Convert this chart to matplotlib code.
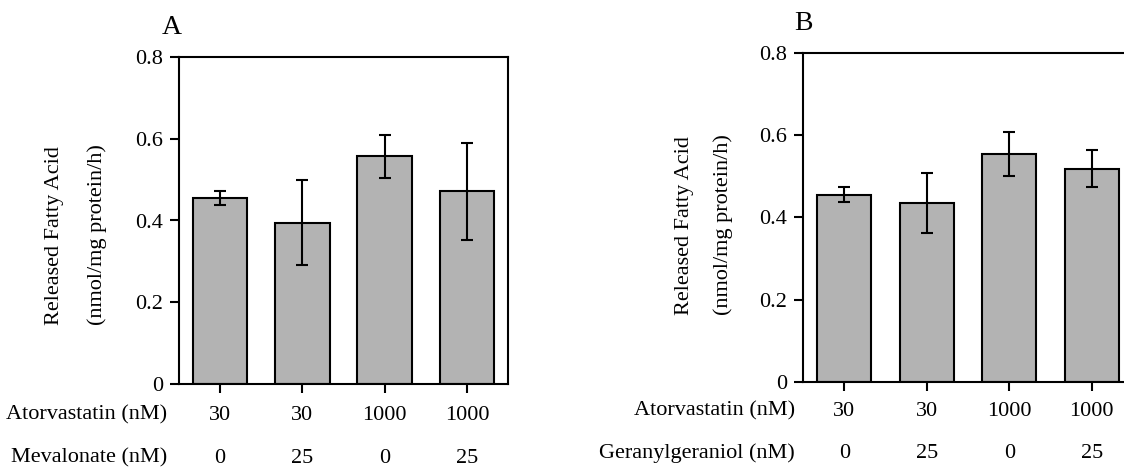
import matplotlib
matplotlib.use('Agg')
import matplotlib.pyplot as plt
import matplotlib.transforms as mtransforms

plt.rcParams['font.family'] = ['Liberation Serif', 'DejaVu Serif']

# Panel A: atorvastatin +/- mevalonate
atorva_a = ['30', '30', '1000', '1000']
meval_a = ['0', '25', '0', '25']
values_a = [0.455, 0.395, 0.557, 0.471]
errors_a = [0.018, 0.104, 0.053, 0.118]

# Panel B: atorvastatin +/- geranylgeraniol
atorva_b = ['30', '30', '1000', '1000']
gg_b = ['0', '25', '0', '25']
values_b = [0.455, 0.435, 0.554, 0.519]
errors_b = [0.018, 0.072, 0.053, 0.045]

yticks = [0, 0.2, 0.4, 0.6, 0.8]
ytick_labels = ['0', '0.2', '0.4', '0.6', '0.8']

W, H = 1124, 469
fig = plt.figure(figsize=(W / 100, H / 100), dpi=100)


def px(x0, y0, x1, y1):
    # pixel box (top-left origin) -> figure fraction rect
    return [x0 / W, 1 - y1 / H, (x1 - x0) / W, (y1 - y0) / H]


def draw_panel(ax, values, errors, row1, row2, row1_name, row2_name,
               name_x, row_y, letter, letter_xy, ylab_x, ylab_bottom):
    x = list(range(len(values)))
    ax.bar(x, values, width=0.66, color='#b3b3b3', edgecolor='black',
           linewidth=1.5, zorder=2)
    ax.errorbar(x, values, yerr=errors, fmt='none', ecolor='black',
                elinewidth=1.5, capsize=4.3, capthick=1.5, zorder=3)
    ax.set_xlim(-0.5, 3.5)
    ax.set_ylim(0, 0.8)
    ax.set_yticks(yticks)
    ax.set_yticklabels(ytick_labels)
    ax.set_xticks(x)
    ax.set_xticklabels([])
    for s in ax.spines.values():
        s.set_linewidth(1.5)
    ax.tick_params(direction='out', length=6.5, width=1.5, labelsize=16, pad=5)

    # condition rows under the axis
    trans = mtransforms.blended_transform_factory(ax.transData, fig.transFigure)
    for xi, a, b in zip(x, row1, row2):
        ax.text(xi, 1 - row_y[0] / H, a, transform=trans, ha='center',
                va='center', fontsize=16)
        ax.text(xi, 1 - row_y[1] / H, b, transform=trans, ha='center',
                va='center', fontsize=16)
    fig.text(name_x / W, 1 - row_y[0] / H, row1_name, ha='right', va='center', fontsize=16)
    fig.text(name_x / W, 1 - row_y[1] / H, row2_name, ha='right', va='center', fontsize=16)

    # two-line y label, both lines start at the same height
    fig.text(ylab_x[0] / W, 1 - ylab_bottom / H, 'Released Fatty Acid', rotation=90,
             rotation_mode='anchor', ha='left', va='center', fontsize=16)
    fig.text(ylab_x[1] / W, 1 - ylab_bottom / H, '(nmol/mg protein/h)', rotation=90,
             rotation_mode='anchor', ha='left', va='center', fontsize=16)

    fig.text(letter_xy[0] / W, 1 - letter_xy[1] / H, letter, ha='center',
             va='center', fontsize=20)


ax_a = fig.add_axes(px(179, 57, 508, 384))
draw_panel(ax_a, values_a, errors_a, atorva_a, meval_a,
           'Atorvastatin (nM)', 'Mevalonate (nM)', 167, (415, 458),
           'A', (172, 27), (55, 97), 325)

ax_b = fig.add_axes(px(803, 53, 1133, 382))
ax_b.spines['right'].set_visible(False)
draw_panel(ax_b, values_b, errors_b, atorva_b, gg_b,
           'Atorvastatin (nM)', 'Geranylgeraniol (nM)', 795, (411, 453),
           'B', (803, 23), (685, 723), 315)

fig.savefig('out.png', dpi=100)
